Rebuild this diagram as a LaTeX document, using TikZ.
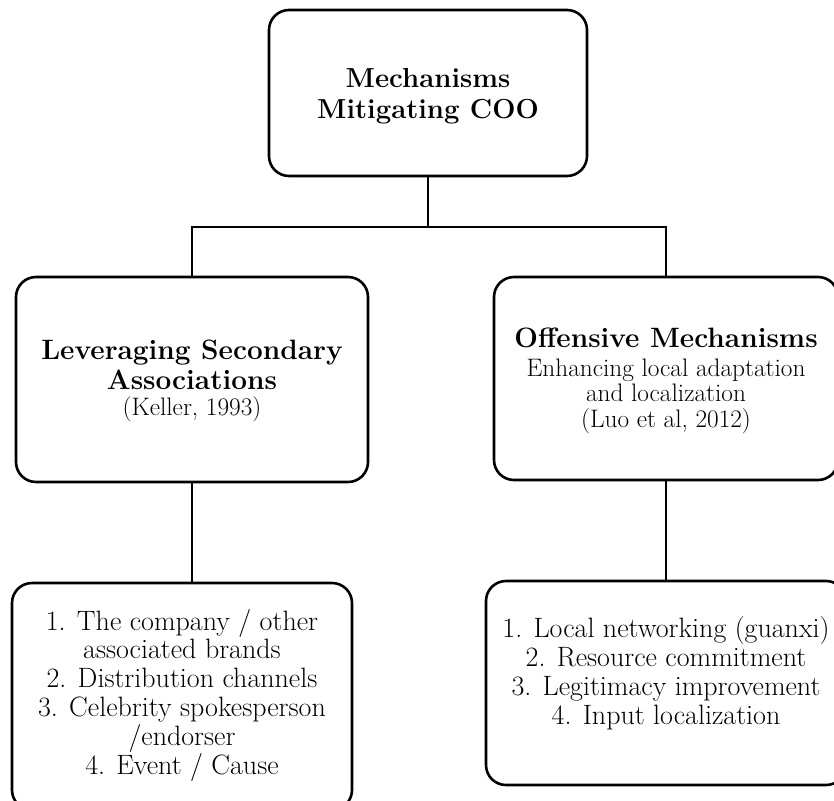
\documentclass[tikz,border=0pt]{standalone}
\usepackage{fontspec}
\begin{document}
\begin{tikzpicture}[x=1pt,y=-1pt,
  box/.style={draw,line width=2.6pt,rounded corners=20pt,inner sep=0pt},
  conn/.style={line width=2.4pt},
  ttl/.style={align=center,inner sep=0pt,anchor=base,font=\fontsize{28}{30}\selectfont\bfseries},
  sub/.style={align=center,inner sep=0pt,anchor=base,font=\fontsize{25.3}{25.5}\selectfont},
  lst/.style={align=center,inner sep=0pt,anchor=base,font=\fontsize{28}{28.8}\selectfont}]
\useasboundingbox (0,0) rectangle (834,800);
% boxes
\node[box,minimum width=318pt,minimum height=166pt] (top) at (428,93) {};
\node[box,minimum width=352pt,minimum height=205pt] (midL) at (192,379.5) {};
\node[box,minimum width=344pt,minimum height=203pt] (midR) at (666,378.5) {};
\node[box,minimum width=340pt,minimum height=227pt] (botL) at (182,696.5) {};
\node[box,minimum width=360pt,minimum height=204pt] (botR) at (666,683) {};
% connectors
\coordinate (j) at (428,227);
\draw[conn] (top.south) -- (j);
\draw[conn] (midL.north) |- (j) -| (midR.north);
\draw[conn] (midL.south) -- (midL.south |- botL.north);
\draw[conn] (midR.south) -- (botR.north);
% texts (base anchor = baseline of the last line)
\node[ttl,font=\fontsize{27.5}{31}\selectfont\bfseries] (topT) at (428,118) {Mechanisms\\Mitigating COO};
\node[ttl] (midLT) at (192,389) {Leveraging Secondary\\Associations};
\node[sub] (midLS) at (192,415) {(Keller, 1993)};
\node[ttl] (midRT) at (666,347) {Offensive Mechanisms};
\node[sub] (midRS) at (666,427) {Enhancing local adaptation\\and localization\\(Luo et al, 2012)};
\node[lst] (botLT) at (182,774) {1. The company / other\\associated brands\\2. Distribution channels\\3. Celebrity spokesperson\\/endorser\\4. Event / Cause};
\node[lst] (botRT) at (666,724) {1. Local networking (guanxi)\\2. Resource commitment\\3. Legitimacy improvement\\4. Input localization};
\end{tikzpicture}
\end{document}
